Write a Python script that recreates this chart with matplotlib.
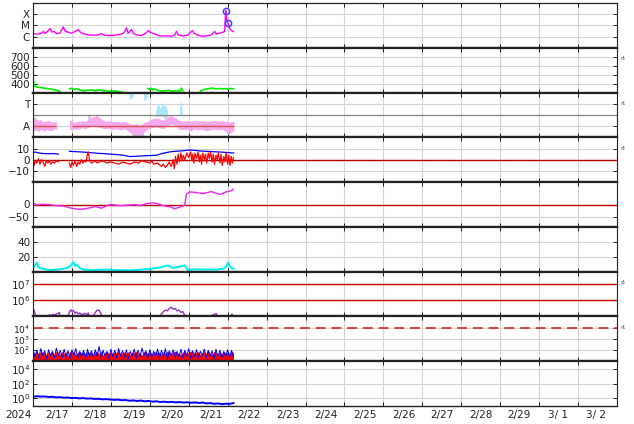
import numpy as np
import matplotlib
matplotlib.use('Agg')
import matplotlib.pyplot as plt
from matplotlib import transforms

# ---- x axis: days since 2024-02-16 00:00
day_labels = ['2024', '2/17', '2/18', '2/19', '2/20', '2/21', '2/22', '2/23',
              '2/24', '2/25', '2/26', '2/27', '2/28', '2/29', '3/ 1', '3/ 2']

# ---- panel 1: X-ray flux (W/m2)
xray_t = [0.009, 0.137, 0.222, 0.265, 0.308, 0.393, 0.436, 0.487, 0.538, 0.607,
          0.692, 0.778, 0.829, 0.906, 0.991, 1.077, 1.162, 1.222, 1.291, 1.419,
          1.547, 1.675, 1.761, 1.821, 1.974, 2.103, 2.231, 2.316, 2.359, 2.402,
          2.444, 2.530, 2.590, 2.658, 2.786, 2.897, 2.957, 3.017, 3.128, 3.256,
          3.427, 3.556, 3.641, 3.684, 3.726, 3.855, 3.983, 4.043, 4.094, 4.154,
          4.239, 4.325, 4.453, 4.581, 4.667, 4.709, 4.795, 4.880, 4.923, 4.949,
          4.974, 5.009, 5.051, 5.103, 5.154]
xray_v = [1.8e-6, 1.65e-6, 2.0e-6, 2.9e-6, 1.9e-6, 3.4e-6, 5.2e-6, 2.5e-6, 2.9e-6, 1.8e-6,
          2.0e-6, 7.4e-6, 2.9e-6, 2.5e-6, 2.0e-6, 2.9e-6, 4.2e-6, 2.4e-6, 1.8e-6, 1.4e-6,
          1.33e-6, 1.4e-6, 1.9e-6, 1.33e-6, 1.24e-6, 1.33e-6, 1.5e-6, 2.0e-6, 2.9e-6, 6.0e-6,
          2.0e-6, 4.2e-6, 1.8e-6, 1.4e-6, 1.24e-6, 2.0e-6, 3.4e-6, 2.4e-6, 1.65e-6, 1.15e-6,
          1.15e-6, 1.07e-6, 1.4e-6, 2.9e-6, 1.4e-6, 1.15e-6, 1.4e-6, 2.4e-6, 3.4e-6, 1.8e-6,
          1.4e-6, 1.07e-6, 1.15e-6, 1.4e-6, 2.9e-6, 1.65e-6, 2.0e-6, 2.5e-6, 2.9e-6, 2.1e-4,
          4.0e-5, 1.5e-5, 5.2e-6, 3.4e-6, 2.7e-6]
flare_t = [4.949, 5.009]
flare_v = [2.1e-4, 1.5e-5]

# ---- panel 2: solar wind speed (km/s)
sw_t = [0.0, 0.01, 0.03, 0.1, 0.2, 0.35, 0.5, 0.6, 0.7, 0.75,
        0.94, 0.99, 1.05, 1.12, 1.2, 1.3, 1.4, 1.5, 1.6, 1.7, 1.8, 1.9, 2.0, 2.1, 2.2, 2.3, 2.35,
        2.95, 2.99, 3.03, 3.07, 3.12, 3.2, 3.3, 3.4, 3.5, 3.55, 3.62, 3.7, 3.78, 3.81, 3.85, 3.88,
        4.3, 4.4, 4.53, 4.6, 4.7, 4.8, 4.87, 4.93, 5.0, 5.07, 5.15]
sw_v = [460, 440, 380, 360, 356, 345, 335, 326, 310, np.nan,
        340, 348, 335, 342, 330, 320, 326, 330, 322, 330, 322, 318, 315, 318, 311, 305, np.nan,
        345, 335, 350, 330, 340, 325, 318, 320, 325, 315, 318, 322, 318, 348, 320, np.nan,
        318, 335, 345, 350, 342, 345, 340, 345, 338, 346, 342]

# ---- panel 3: IMF sector (T / A)
pk1_t = [0.00, 0.05, 0.10, 0.15, 0.20, 0.25, 0.30, 0.35, 0.40, 0.45, 0.50, 0.55, 0.60]
pk1_hi = [-0.15, -0.25, -0.2, -0.3, -0.22, -0.35, -0.28, -0.3, -0.25, -0.32, -0.3, -0.35, -0.3]
pk1_lo = [-0.6, -0.7, -0.65, -0.72, -0.6, -0.68, -0.7, -0.62, -0.66, -0.7, -0.65, -0.6, -0.62]
pk2_t = np.arange(0.95, 5.16, 0.1)
pk2_hi = [-0.25, -0.35, -0.3, -0.28, -0.32, -0.15, -0.1, -0.05, -0.2, -0.3,
          -0.28, -0.32, -0.3, -0.35, -0.3, -0.38, -0.45, -0.4, -0.5, -0.35,
          -0.3, -0.2, -0.15, -0.2, -0.25, -0.1, -0.05, -0.15, -0.25, -0.3,
          -0.28, -0.3, -0.25, -0.3, -0.28, -0.32, -0.3, -0.25, -0.3, -0.28,
          -0.3, -0.35, -0.3]
pk2_lo = [-0.65, -0.6, -0.62, -0.55, -0.6, -0.5, -0.45, -0.5, -0.55, -0.6,
          -0.58, -0.62, -0.6, -0.65, -0.6, -0.7, -0.85, -0.8, -0.9, -0.75,
          -0.6, -0.55, -0.5, -0.55, -0.6, -0.45, -0.4, -0.45, -0.6, -0.65,
          -0.6, -0.7, -0.6, -0.65, -0.62, -0.7, -0.65, -0.6, -0.65, -0.62,
          -0.7, -0.8, -0.7]
lb_t = [2.49, 2.53, 2.57, 2.60, 2.86, 2.89, 2.93, 2.95, 3.18, 3.22, 3.26, 3.30,
        3.34, 3.38, 3.42, 3.46, 3.48, 3.79, 3.81, 3.83]
lb_lo = [0.7, 0.75, 0.8, np.nan, 0.65, 0.7, 0.75, np.nan, -0.1, -0.05, 0.0, -0.1,
         0.05, -0.05, 0.0, -0.15, np.nan, 0.0, 0.05, 0.0]
lb_hi = [0.95, 1.0, 0.95, np.nan, 0.9, 1.0, 0.95, np.nan, 0.2, 0.45, 0.3, 0.25,
         0.5, 0.4, 0.35, 0.1, np.nan, 0.3, 0.55, 0.2]
gr_t = [0.0, 0.04, 0.08, 0.1, 1.42, 1.45, 1.48, 1.5, 2.55, 2.65, 2.75, 2.85, 2.9,
        3.36, 3.40, 3.44, 3.5, 4.98, 5.03, 5.08]
gr_lo = [-0.4, -0.35, -0.3, np.nan, -0.3, -0.2, -0.3, np.nan, -1.0, -1.05, -1.05, -0.95, np.nan,
         -0.2, -0.1, -0.3, np.nan, -0.85, -0.9, -0.8]
gr_hi = [-0.05, -0.1, -0.15, np.nan, -0.05, 0.05, -0.1, np.nan, -0.8, -0.85, -0.9, -0.8, np.nan,
         0.3, 0.4, 0.1, np.nan, -0.6, -0.65, -0.6]
sector_spans = [(0.0, 0.6), (1.0, 5.15)]

# ---- panel 4: Bt / Bz (nT)
bt_t = [0.009, 0.051, 0.179, 0.35, 0.521, 0.65, 0.7,
        0.932, 1.05, 1.205, 1.3, 1.419, 1.632, 1.8, 1.974, 2.15, 2.316, 2.487, 2.7, 2.915,
        3.171, 3.342, 3.513, 3.684, 3.85, 4.026, 4.2, 4.368, 4.55, 4.709, 4.85, 4.966, 5.154]
bt_v = [6.0, 6.9, 5.8, 5.3, 5.5, 5.0, np.nan,
        7.6, 7.3, 7.0, 6.8, 6.5, 5.8, 5.5, 5.0, 4.6, 4.0, 2.8, 3.2, 3.6,
        4.0, 5.8, 7.0, 7.6, 8.0, 8.7, 8.2, 7.6, 7.4, 7.0, 6.8, 6.5, 6.0]
bz_t = [0.00, 0.03, 0.06, 0.1, 0.14, 0.18, 0.22, 0.26, 0.3, 0.34, 0.38, 0.42, 0.46, 0.5,
        0.55, 0.6, 0.65, 0.7,
        0.93, 0.97, 1.0, 1.04, 1.08, 1.12, 1.16, 1.2, 1.24, 1.28, 1.32, 1.36, 1.4, 1.42,
        1.45, 1.5, 1.55, 1.6, 1.65, 1.7, 1.8, 1.9, 2.0, 2.1, 2.2, 2.3, 2.4, 2.5, 2.6,
        2.7, 2.8, 2.9, 3.0, 3.05, 3.1, 3.2, 3.3, 3.35, 3.4, 3.45, 3.5, 3.55, 3.6, 3.63,
        3.66, 3.7, 3.73, 3.76, 3.8, 3.83, 3.86, 3.9, 3.95, 4.0, 4.05, 4.08, 4.1, 4.13,
        4.16, 4.2, 4.24, 4.27, 4.3, 4.33, 4.36, 4.4, 4.43, 4.46, 4.5, 4.53, 4.56, 4.6,
        4.63, 4.66, 4.7, 4.73, 4.76, 4.8, 4.83, 4.86, 4.9, 4.93, 4.96, 5.0, 5.03, 5.06,
        5.09, 5.12, 5.15]
bz_v = [2, -5, -1, -3, 1, -4, 0, -2, -6, -1, -3, -1, -4, -2,
        -3, -1, -2, np.nan,
        -3, -7, -2, -5, -1, -6, -2, -4, 0, -3, -1, -2, 5, 7,
        0, -3, -2, -1, -3, -2, -1, -3, -2, -3, -4, -2, -3, -4, -2,
        -3, -1, -2, -3, -1, -4, -3, -6, -4, -7, -5, -2, -6, 0, -8,
        3, -4, 5, -2, 6, -1, 4, 0, 6, 2, 7, -1, 5, -3,
        6, 1, 7, -2, 4, -4, 6, 0, 5, -3, 6, 1, 7, -2,
        5, -4, 4, 0, 6, -3, 5, -5, 3, -2, 6, -4, 4, -5,
        3, -3, 2]

# ---- panel 5: Dst-like index (nT)
dst_t = [0.009, 0.094, 0.222, 0.393, 0.607, 0.778, 0.991, 1.205, 1.419, 1.59,
         1.761, 1.932, 2.017, 2.231, 2.487, 2.615, 2.744, 2.915, 3.085, 3.214,
         3.342, 3.513, 3.641, 3.812, 3.897, 3.94, 4.026, 4.197, 4.368, 4.581,
         4.795, 4.966, 5.094, 5.137]
dst_v = [7, -2, 1, 0, -5, -6, -15, -20, -15, -8,
         -15, -2, 0, -5, -2, 0, -5, 3, 7, 3,
         -5, -9, -17, -8, -3, 41, 51, 48, 44, 52,
         40, 51, 55, 62]

# ---- panel 6: proton density
np_t = [0.009, 0.05, 0.094, 0.13, 0.179, 0.265, 0.436, 0.692, 0.863, 0.949, 1.0, 1.034,
        1.08, 1.12, 1.205, 1.291, 1.462, 1.632, 1.889, 2.145, 2.487, 2.744, 3.0, 3.171,
        3.342, 3.47, 3.598, 3.769, 3.897, 3.94, 3.983, 4.111, 4.368, 4.709, 4.88, 4.97,
        5.009, 5.05, 5.094, 5.154]
np_v = [4.9, 8.0, 12.4, 7.0, 4.9, 3.6, 2.2, 3.0, 4.9, 7.1, 10.5, 12.9,
        8.0, 9.3, 4.9, 3.0, 2.2, 2.2, 2.7, 2.2, 1.8, 2.7, 3.6, 4.9,
        6.7, 8.4, 4.9, 6.7, 8.4, 5.0, 2.0, 3.0, 3.0, 2.7, 4.0, 7.0,
        12.4, 8.0, 4.9, 4.0]

# ---- panel 7: electron flux (log10)
el_t = [0.0, 0.02, 0.04, 0.06, 0.08, 0.2,
        0.39, 0.42, 0.46, 0.5, 0.55, 0.6, 0.65, 0.68, 0.7, 0.8,
        0.91, 0.94, 0.97, 1.0, 1.04, 1.08, 1.12, 1.16, 1.2, 1.25, 1.3, 1.34, 1.38, 1.42, 1.45, 1.5,
        1.55, 1.6, 1.65, 1.7, 1.74, 1.77, 2.0,
        3.26, 3.3, 3.35, 3.4, 3.45, 3.5, 3.55, 3.6, 3.65, 3.7, 3.75, 3.8, 3.85, 3.88, 3.92, 4.0,
        4.58, 4.62, 4.66, 4.7, 4.73, 4.76, 4.9,
        5.09, 5.11, 5.13]
el_log = [5.0, 5.42, 5.3, 5.05, 4.9, np.nan,
          4.95, 5.1, 5.05, 5.12, 5.1, 5.15, 5.2, 5.25, 4.95, np.nan,
          5.1, 5.3, 5.42, 5.3, 5.38, 5.2, 5.28, 5.15, 5.22, 5.12, 5.15, 5.2, 5.1, 5.22, 4.95, np.nan,
          5.0, 5.25, 5.4, 5.38, 5.2, 4.95, np.nan,
          5.0, 5.15, 5.3, 5.4, 5.35, 5.5, 5.58, 5.45, 5.5, 5.35, 5.4, 5.25, 5.3, 5.15, 4.95, np.nan,
          5.0, 5.1, 5.12, 5.18, 5.05, 4.95, np.nan,
          5.0, 5.15, 4.95]

# ---- panel 8: proton flux (log10), two channels
pf_t = np.arange(0.0, 5.16, 0.05)
pf_red = [1.85, 1.7, 1.9, 1.6, 1.95, 1.75, 1.8, 1.55, 1.9, 1.7,
          1.85, 1.6, 1.95, 1.8, 1.65, 1.9, 1.7, 1.85, 1.5, 1.9,
          1.75, 1.95, 1.6, 1.8, 1.9, 1.7, 1.85, 1.65, 1.95, 1.75,
          1.8, 1.6, 1.9, 1.85, 1.7, 1.95, 1.55, 1.8, 1.9, 1.7,
          1.85, 1.65, 1.9, 1.75, 1.95, 1.6, 1.8, 1.85, 1.7, 1.9,
          1.6, 1.85, 1.75, 1.95, 1.7, 1.8, 1.55, 1.9, 1.85, 1.7,
          1.95, 1.65, 1.8, 1.9, 1.75, 1.85, 1.6, 1.9, 1.7, 1.95,
          1.8, 1.65, 1.85, 1.9, 1.7, 1.75, 1.6, 1.85, 1.9, 1.7,
          1.8, 1.95, 1.65, 1.85, 1.75, 1.9, 1.6, 1.8, 1.85, 1.7,
          1.95, 1.75, 1.6, 1.9, 1.8, 1.7, 1.85, 1.65, 1.9, 1.75,
          1.85, 1.7, 1.9, 1.8]
pf_blue = [2.1, 1.4, 2.0, 1.3, 2.15, 1.5, 1.95, 1.2, 2.05, 1.45,
           1.9, 1.3, 2.2, 1.5, 2.0, 1.35, 2.1, 1.4, 1.95, 1.25,
           2.05, 1.5, 2.15, 1.3, 1.9, 1.45, 2.0, 1.2, 2.1, 1.4,
           1.95, 1.35, 2.05, 1.5, 2.35, 1.3, 2.0, 1.45, 1.9, 1.25,
           2.1, 1.4, 2.0, 1.3, 2.15, 1.5, 1.95, 1.35, 2.05, 1.2,
           1.9, 1.45, 2.1, 1.3, 2.0, 1.4, 2.2, 1.5, 1.95, 1.25,
           2.05, 1.35, 1.9, 1.45, 2.1, 1.3, 2.0, 1.4, 2.15, 1.2,
           1.95, 1.5, 2.05, 1.35, 1.9, 1.4, 2.1, 1.3, 2.0, 1.45,
           2.15, 1.25, 1.95, 1.4, 2.05, 1.35, 1.9, 1.5, 2.1, 1.3,
           2.0, 1.45, 1.95, 1.2, 2.1, 1.4, 2.0, 1.35, 1.9, 1.45,
           2.05, 1.3, 2.0, 1.4]

# ---- panel 9: high-energy flux (log10)
he_t = np.linspace(0.0, 5.15, 53)
he_log = [0.18, 0.25, 0.2, 0.22, 0.15, 0.18, 0.1, 0.12, 0.05, 0.08,
          0.0, 0.03, -0.05, 0.0, -0.08, -0.05, -0.12, -0.1, -0.18, -0.15,
          -0.2, -0.25, -0.22, -0.3, -0.28, -0.37, -0.32, -0.4, -0.35, -0.45,
          -0.4, -0.5, -0.45, -0.55, -0.5, -0.58, -0.52, -0.6, -0.55, -0.62,
          -0.58, -0.65, -0.6, -0.68, -0.62, -0.75, -0.7, -0.8, -0.75, -0.85,
          -0.78, -0.8, -0.7]

# ---------------------------------------------------------------
fig, axes = plt.subplots(9, 1, figsize=(6.34, 4.24), dpi=100, sharex=True)
fig.subplots_adjust(left=33/634, right=617/634, top=1-3/424, bottom=1-406/424, hspace=0)

grid_kw = dict(color='#d4d4d4', lw=0.8)
for i, ax in enumerate(axes):
    ax.set_xlim(0, 15)
    ax.set_xticks(range(16))
    ax.grid(True, **grid_kw)
    ax.set_axisbelow(True)
    ax.tick_params(direction='in', length=3, width=0.6, top=True, right=True,
                   labelsize=7.5, labelcolor='#222', pad=2)
    ax.tick_params(axis='x', labelbottom=False)
    for s in ('left', 'right'):
        ax.spines[s].set_linewidth(0.8)
        ax.spines[s].set_color('#222')
    for s in ('top', 'bottom'):
        ax.spines[s].set_linewidth(1.6)
        ax.spines[s].set_color('#222')
axes[0].spines['top'].set_linewidth(0.9)
axes[-1].spines['bottom'].set_linewidth(1.0)

# panel 1
ax = axes[0]
ax.set_yscale('log')
ax.set_ylim(1e-7, 1e-3)
ax.plot(xray_t, xray_v, color='#ff00ff', lw=1)
ax.plot(flare_t, flare_v, 'o', mfc='none', mec='#4040ff', ms=4.5, mew=1.1)
ax.set_yticks([1e-6, 1e-5, 1e-4])
ax.set_yticklabels(['C', 'M', 'X'])
ax.minorticks_off()

# panel 2
ax = axes[1]
ax.set_ylim(300, 800)
ax.set_yticks([400, 500, 600, 700])
ax.plot(sw_t, sw_v, color='#00ee00', lw=1.2)

# panel 3
ax = axes[2]
ax.set_ylim(-1, 1)
ax.set_yticks([-0.5, 0.5])
ax.set_yticklabels(['A', 'T'])
ax.axhline(0, color='#808080', lw=0.9)
ax.fill_between(gr_t, gr_lo, gr_hi, color='#c8c8c8', lw=0)
ax.fill_between(pk1_t, pk1_lo, pk1_hi, color='#f5aaf0', lw=0.6, edgecolor='#f5aaf0')
ax.fill_between(pk2_t, pk2_lo, pk2_hi, color='#f5aaf0', lw=0.6, edgecolor='#f5aaf0')
ax.fill_between(lb_t, lb_lo, lb_hi, color='#a8e8fb', lw=0.6, edgecolor='#a8e8fb')
for a, b in sector_spans:
    ax.hlines(-0.5, a, b, color='#e05050', lw=1)

# panel 4
ax = axes[3]
ax.set_ylim(-20, 20)
ax.set_yticks([-10, 0, 10])
ax.axhline(0, color='#b00000', lw=1)
ax.plot(bt_t, bt_v, color='#0000ff', lw=0.9)
ax.plot(bz_t, bz_v, color='#ff0000', lw=0.9)

# panel 5
ax = axes[4]
ax.set_ylim(-90, 90)
ax.set_yticks([-50, 0])
ax.axhline(0, color='#c00000', lw=1)
ax.plot(dst_t, dst_v, color='#ee22ee', lw=1)

# panel 6
ax = axes[5]
ax.set_ylim(0, 60)
ax.set_yticks([20, 40])
ax.plot(np_t, np_v, color='#00eeee', lw=1.4)

# panel 7
ax = axes[6]
ax.set_yscale('log')
ax.set_ylim(1e5, 10**7.8)
ax.set_yticks([1e6, 1e7])
ax.minorticks_off()
ax.axhline(1e6, color='#cc0000', lw=1)
ax.axhline(1e7, color='#cc0000', lw=1)
ax.plot(el_t, 10**np.array(el_log), color='#9932cc', lw=1)

# panel 8
ax = axes[7]
ax.set_yscale('log')
ax.set_ylim(10, 10**5.09)
ax.set_yticks([1e2, 1e3, 1e4])
ax.minorticks_off()
ax.tick_params(axis='y', labelsize=6.5)
ax.axhline(1e4, color='#dd3333', lw=1.3, dashes=(5.5, 3.2))
ax.plot(pf_t, 10**np.array(pf_blue), color='#0000ff', lw=0.7)
ax.fill_between(pf_t, 10, 10**np.array(pf_red), color='#ff0000', lw=0)

# panel 9
ax = axes[8]
ax.set_yscale('log')
ax.set_ylim(10**-1.1, 10**5.1)
ax.set_yticks([1e0, 1e2, 1e4])
ax.minorticks_off()
ax.plot(he_t, 10**np.array(he_log), color='#0000ff', lw=1.4)

# small right-hand markers
for i in (1, 2, 3, 6, 7):
    axes[i].text(1.006, 0.75, 'rt', transform=axes[i].transAxes, fontsize=4.5,
                 color='#555', va='center', ha='left')

# date labels sit a little left of each midnight line
ax = axes[-1]
trans = transforms.blended_transform_factory(ax.transData, ax.transAxes)
for k, lab in enumerate(day_labels):
    ax.text(k * 0.99 - 0.385, -0.21, lab, transform=trans, ha='center', va='center',
            fontsize=7.5, color='#222', clip_on=False)

fig.savefig('out.png', dpi=100)
plt.close()
